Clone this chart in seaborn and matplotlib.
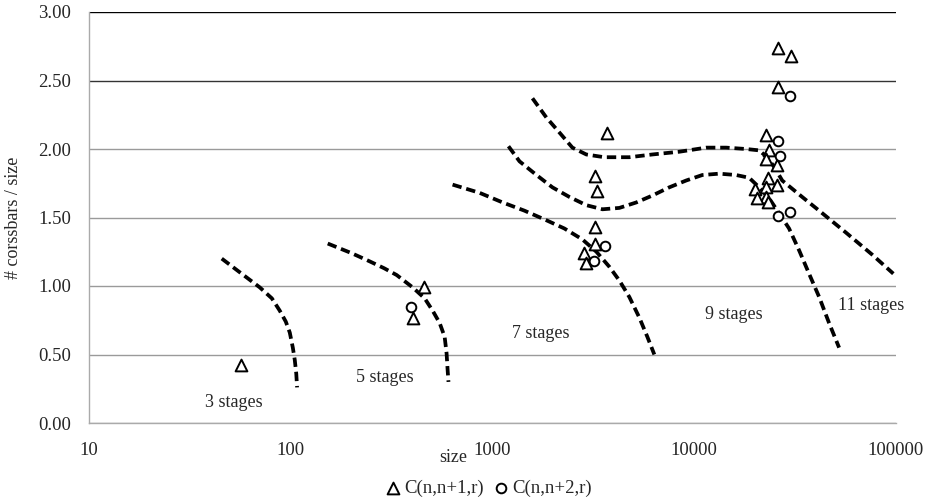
import numpy as np
import pandas as pd
import matplotlib
matplotlib.use('Agg')
import matplotlib.pyplot as plt
import seaborn as sns

# measured points, C(n,n+1,r)
tri_size = [56.5, 455, 402,
            3707, 3237, 3313, 3237, 3237, 2851, 2917,
            26060, 30200, 26060, 22700, 23500, 22700, 25760, 23230, 25760, 20040, 22700, 22700, 20510, 23230]
tri_ratio = [0.42, 0.99, 0.77,
             2.12, 1.80, 1.69, 1.43, 1.31, 1.24, 1.17,
             2.74, 2.68, 2.45, 2.10, 1.99, 1.93, 1.88, 1.79, 1.74, 1.71, 1.72, 1.65, 1.64, 1.61]

# measured points, C(n,n+2,r)
circ_size = [393, 3624, 3199, 29850, 26060, 26700, 26060, 29850]
circ_ratio = [0.85, 1.29, 1.18, 2.39, 2.06, 1.95, 1.51, 1.54]

# hand drawn stage boundaries
curve3_x = [45.5, 55.9, 70.2, 80.6, 88.2, 94.5, 98.9, 102.4, 104.7, 106.5, 107.5]
curve3_y = [1.20, 1.10, 0.99, 0.91, 0.82, 0.74, 0.66, 0.55, 0.46, 0.36, 0.26]
curve5_x = [152.5, 200, 246, 290, 335, 402, 461, 505, 547, 579, 592, 599, 605]
curve5_y = [1.31, 1.24, 1.18, 1.13, 1.08, 0.99, 0.91, 0.82, 0.73, 0.63, 0.51, 0.39, 0.30]
curve7_x = [634, 863, 1122, 1439, 1849, 2270, 2790, 3273, 3796, 4254, 4766, 5341, 5852, 6340]
curve7_y = [1.74, 1.68, 1.61, 1.55, 1.48, 1.42, 1.34, 1.25, 1.14, 1.04, 0.92, 0.77, 0.63, 0.50]
curve9_x = [1200, 1361, 1652, 1982, 2405, 2917, 3508, 4254, 5163, 6194, 7516, 9120, 10960, 13300,
            16140, 18710, 20990, 23500, 26360, 29510, 33100, 37070, 41600, 46580, 52240]
curve9_y = [2.02, 1.91, 1.81, 1.72, 1.65, 1.59, 1.56, 1.57, 1.61, 1.66, 1.72, 1.77, 1.81, 1.82,
            1.81, 1.79, 1.72, 1.64, 1.53, 1.42, 1.26, 1.09, 0.92, 0.73, 0.55]
curve11_x = [1578, 1849, 2147, 2489, 2917, 3581, 4766, 6194, 8430, 11460, 14390, 18070, 20990,
             22960, 24880, 27290, 34270, 41600, 56470, 76030, 97000]
curve11_y = [2.37, 2.23, 2.12, 2.01, 1.96, 1.94, 1.94, 1.96, 1.98, 2.01, 2.01, 2.00, 1.99,
             1.94, 1.87, 1.77, 1.65, 1.55, 1.39, 1.23, 1.09]

stage_labels = ['3 stages', '5 stages', '7 stages', '9 stages', '11 stages']
label_x = [52, 292, 1729, 15780, 75100]
label_y = [0.15, 0.33, 0.65, 0.79, 0.86]

series_names = ['C(n,n+1,r)', 'C(n,n+2,r)']

df_tri = pd.DataFrame({'size': tri_size, 'ratio': tri_ratio})
df_circ = pd.DataFrame({'size': circ_size, 'ratio': circ_ratio})
curves = [(curve3_x, curve3_y), (curve5_x, curve5_y), (curve7_x, curve7_y),
          (curve9_x, curve9_y), (curve11_x, curve11_y)]

sns.set_style('white')
plt.rcParams['font.family'] = ['Liberation Serif', 'DejaVu Serif']

fig = plt.figure(figsize=(9.34, 4.99), dpi=100)
ax = fig.add_axes([89 / 934, 1 - 423 / 499, 807 / 934, 411 / 499])

for cx, cy in curves:
    sns.lineplot(x=cx, y=cy, sort=False, estimator=None, color='black',
                 linewidth=2.7, dashes=False, linestyle=(0, (2.5, 1.3)), ax=ax)

sns.scatterplot(data=df_tri, x='size', y='ratio', marker='^', s=72, color='white',
                edgecolor='black', linewidth=1.4, label=series_names[0], ax=ax, zorder=3)
sns.scatterplot(data=df_circ, x='size', y='ratio', marker='o', s=48, color='white',
                edgecolor='black', linewidth=1.4, label=series_names[1], ax=ax, zorder=3)

for txt, lx, ly in zip(stage_labels, label_x, label_y):
    ax.text(lx, ly, txt, ha='center', va='center', fontsize=13)

ax.set_xscale('log')
ax.set_xlim(10, 100000)
ax.set_ylim(0, 3)
ax.set_xticks([10, 100, 1000, 10000, 100000])
ax.set_xticklabels(['10', '100', '1000', '10000', '100000'])
ax.xaxis.set_minor_locator(matplotlib.ticker.NullLocator())
ax.set_yticks(np.arange(0, 3.01, 0.5))
ax.set_yticklabels(['%.2f' % v for v in np.arange(0, 3.01, 0.5)])
ax.tick_params(axis='x', direction='in', length=4, color='#999999', pad=14, labelsize=13.5)
ax.tick_params(axis='y', length=0, pad=13, labelsize=13.5)

ax.grid(axis='y', color='#9a9a9a', linewidth=1)
gl = ax.get_ygridlines()
gl[-1].set_color('black')
gl[-2].set_color('#333333')

for s in ['top', 'right']:
    ax.spines[s].set_visible(False)
for s in ['left', 'bottom']:
    ax.spines[s].set_color('#aaaaaa')
    ax.spines[s].set_linewidth(1)

ax.set_xlabel('size', fontsize=13)
ax.xaxis.set_label_coords(0.451, -0.063)
ax.set_ylabel('# corssbars / size', fontsize=13)
ax.yaxis.set_label_coords(-0.083, 0.5)

handles, labels = ax.get_legend_handles_labels()
if ax.legend_:
    ax.legend_.remove()
fig.legend(handles, labels, loc='center', bbox_to_anchor=(0.522, 0.022), ncol=2, frameon=False,
           fontsize=13.5, handletextpad=0.1, columnspacing=0.4, handlelength=1.0, borderpad=0)

fig.savefig('out.png', dpi=100)
